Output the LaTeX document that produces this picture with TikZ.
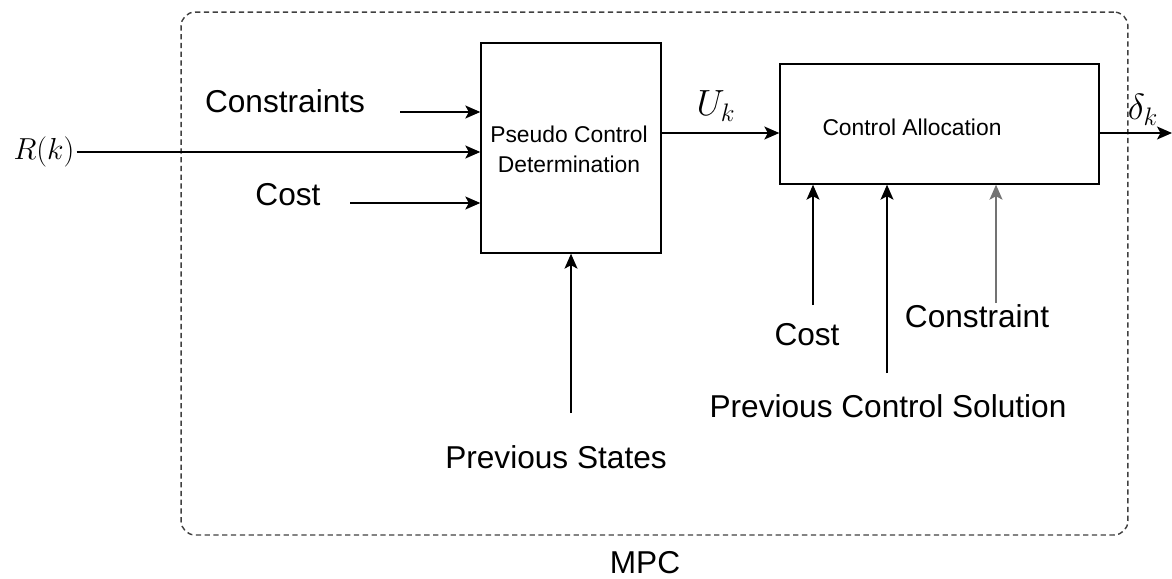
\documentclass[tikz,border=0pt]{standalone}
\usepackage{fontspec}
\setmainfont{Liberation Sans}
\usetikzlibrary{arrows.meta,positioning,calc}
\tikzset{
  blk/.style={draw,line width=.8pt,inner sep=0pt},
  blktxt/.style={inner sep=0pt,align=center,font=\fontsize{13}{17}\selectfont},
  lbl/.style={inner sep=1pt,font=\fontsize{18}{21}\selectfont},
  mathlbl/.style={inner sep=1pt,font=\fontsize{21}{24}\selectfont},
  arr/.style={-{Stealth[length=3mm,width=2.6mm,inset=.7mm]},line width=.8pt},
  mpcbox/.style={draw=black!75,line width=.8pt,dash pattern=on 3pt off 2pt,rounded corners=.28cm}
}
\begin{document}
\begin{tikzpicture}[x=.02cm,y=-.02cm]
\useasboundingbox (0,0) rectangle (1172,578);
\node[mpcbox,minimum width=18.94cm,minimum height=10.46cm] (mpc) at (654.5,273.5) {};
\node[lbl] (mpclbl) at (645,563) {MPC};
\node[blk,minimum width=3.6cm,minimum height=4.2cm] (pcd) at (571,148) {};
\node[blktxt] (pcdtxt) at (569,149) {Pseudo Control\\Determination};
\node[blk,minimum width=6.38cm,minimum height=2.4cm] (ca) at (939.5,124) {};
\node[blktxt] (catxt) at (912,127) {Control Allocation};
% inputs of the first block
\node[inner sep=1pt,font=\fontsize{16}{18}\selectfont] (rk) at (44,152) {$R(k)$};
\node[lbl] (cons) at (285,101) {Constraints};
\node[lbl] (cost) at (288,195) {Cost};
\node[lbl] (prevst) at (556,457) {Previous States};
\coordinate (consin) at (400,112);
\coordinate (costin) at (350,203);
\coordinate (prevstin) at (571,413);
\draw[arr] (rk.east) -- (rk.east -| pcd.west);
\draw[arr] (consin) -- (consin -| pcd.west);
\draw[arr] (costin) -- (costin -| pcd.west);
\draw[arr] (prevstin) -- (prevstin |- pcd.south);
% between the blocks and out
\coordinate (uk) at (661,133);
\node[mathlbl] (uklbl) at (716,106) {$U_k$};
\draw[arr] (uk) -- (uk -| ca.west);
\coordinate (out) at (1172,133);
\node[mathlbl] (dk) at (1143,110) {$\delta_k$};
\draw[arr] (out -| ca.east) -- (out);
% inputs of the second block
\node[lbl] (cost2) at (807,335) {Cost};
\node[lbl] (pcs) at (888,406) {Previous Control Solution};
\node[lbl] (cons2) at (977,316) {Constraint};
\coordinate (cost2in) at (813,305);
\coordinate (pcsin) at (887,373);
\coordinate (cons2in) at (996,303);
\draw[arr] (cost2in) -- (cost2in |- ca.south);
\draw[arr] (pcsin) -- (pcsin |- ca.south);
\draw[arr,black!55] (cons2in) -- (cons2in |- ca.south);
\end{tikzpicture}
\end{document}
